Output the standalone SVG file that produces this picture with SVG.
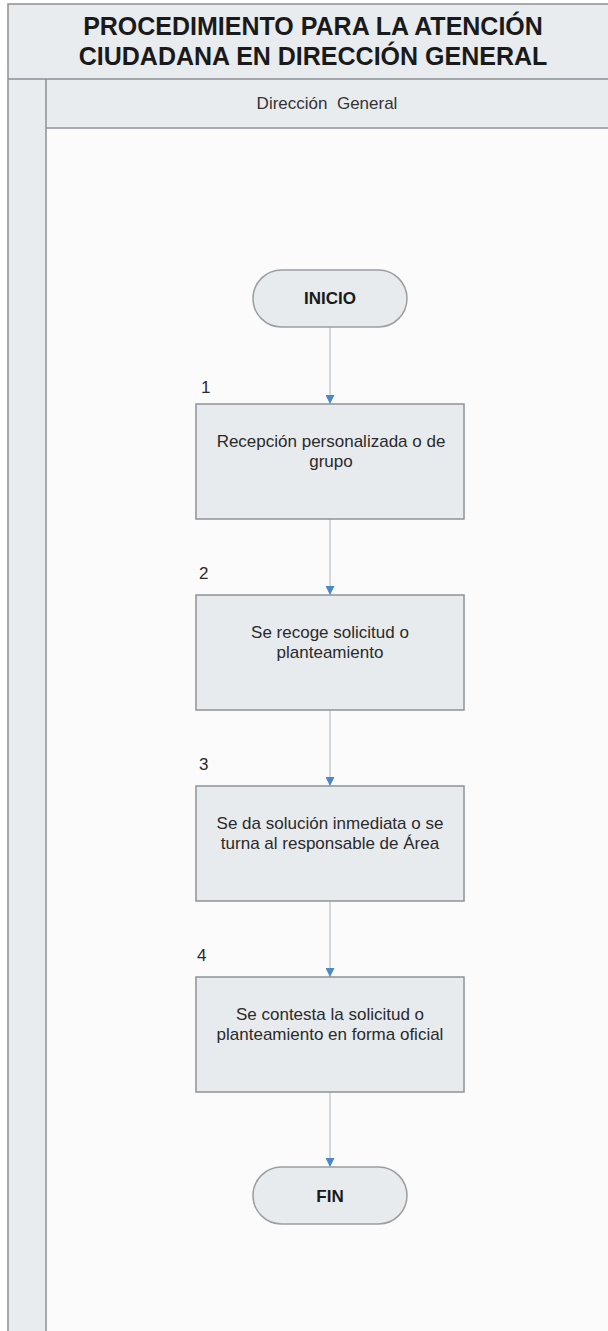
<svg xmlns="http://www.w3.org/2000/svg" width="608" height="1331" viewBox="0 0 608 1331">
<defs>
<style>
.hdr{fill:#e9ecef;}
.frame{fill:none;stroke:#8c9196;stroke-width:1.5;}
.proc{fill:#e8ebee;stroke:#8f9397;stroke-width:1.5;}
.term{fill:#e8ebee;stroke:#9a9ea2;stroke-width:1.5;}
.t{font-family:"Liberation Sans",Arial,sans-serif;fill:#1a1a1a;}
.title{font-size:25px;font-weight:bold;text-anchor:middle;}
.lane{font-size:17px;text-anchor:middle;fill:#333;}
.body{font-size:17px;text-anchor:middle;fill:#2a2a2a;}
.bold{font-size:17px;font-weight:bold;text-anchor:middle;}
.num{font-size:17px;fill:#2a2a2a;}
.conn{stroke:#c7ccd1;stroke-width:1.5;fill:none;marker-end:url(#arr);}
</style>
<marker id="arr" viewBox="0 0 10 10" refX="10" refY="5" markerWidth="9" markerHeight="9" markerUnits="userSpaceOnUse" orient="auto">
<path d="M0,0 L10,5 L0,10 Z" fill="#4a88c7"/>
</marker>
</defs>
<rect x="0" y="0" width="608" height="1331" fill="#ffffff"/>
<g id="frame">
<rect x="8" y="4" width="600" height="75" class="hdr"/>
<rect x="8" y="79" width="38" height="1252" class="hdr"/>
<rect x="46" y="79" width="562" height="49" class="hdr"/>
<rect x="46" y="128" width="562" height="1203" fill="#fbfbfb"/>
<path d="M608,4 H8 V1331" class="frame"/>
<line x1="8" y1="79" x2="608" y2="79" class="frame"/>
<line x1="46" y1="79" x2="46" y2="1331" class="frame" stroke-width="2"/>
<line x1="46" y1="128" x2="608" y2="128" class="frame"/>
<text class="t title" x="313" y="35">PROCEDIMIENTO PARA LA ATENCIÓN</text>
<text class="t title" x="313" y="65">CIUDADANA EN DIRECCIÓN GENERAL</text>
<text class="t lane" x="327" y="109" xml:space="preserve">Dirección  General</text>
</g>
<g id="connectors">
<line x1="330" y1="327" x2="330" y2="404" class="conn"/>
<line x1="330" y1="519" x2="330" y2="595" class="conn"/>
<line x1="330" y1="710" x2="330" y2="786" class="conn"/>
<line x1="330" y1="901" x2="330" y2="977" class="conn"/>
<line x1="330" y1="1092" x2="330" y2="1167" class="conn"/>
</g>
<g id="inicio">
<rect x="253" y="270" width="154" height="57" rx="28.5" ry="28.5" class="term"/>
<text class="t bold" x="330" y="304">INICIO</text>
</g>
<g id="step1">
<text class="t num" x="201" y="393">1</text>
<rect x="196" y="404" width="268" height="115" class="proc"/>
<text class="t body" x="331" y="447">Recepción personalizada o de</text>
<text class="t body" x="331" y="467">grupo</text>
</g>
<g id="step2">
<text class="t num" x="199" y="579">2</text>
<rect x="196" y="595" width="268" height="115" class="proc"/>
<text class="t body" x="330" y="638">Se recoge solicitud o</text>
<text class="t body" x="330" y="658">planteamiento</text>
</g>
<g id="step3">
<text class="t num" x="199" y="770">3</text>
<rect x="196" y="786" width="268" height="115" class="proc"/>
<text class="t body" x="330" y="829">Se da solución inmediata o se</text>
<text class="t body" x="330" y="849">turna al responsable de Área</text>
</g>
<g id="step4">
<text class="t num" x="197" y="961">4</text>
<rect x="196" y="977" width="268" height="115" class="proc"/>
<text class="t body" x="330" y="1020">Se contesta la solicitud o</text>
<text class="t body" x="330" y="1040">planteamiento en forma oficial</text>
</g>
<g id="fin">
<rect x="253" y="1167" width="154" height="57" rx="28.5" ry="28.5" class="term"/>
<text class="t bold" x="330" y="1202">FIN</text>
</g>
</svg>
